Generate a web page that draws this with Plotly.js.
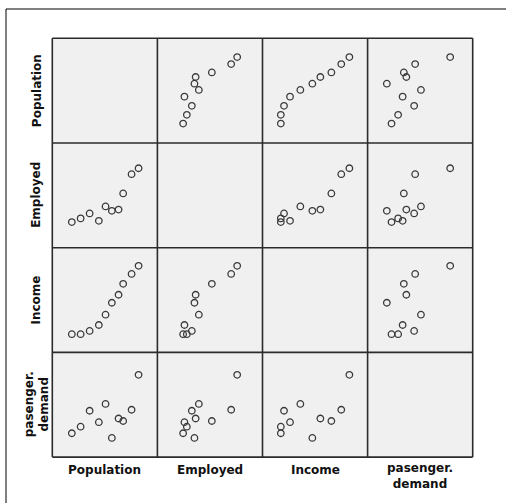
<!DOCTYPE html>
<html>
<head>
<meta charset="utf-8">
<script src="https://cdn.plot.ly/plotly-3.0.1.min.js"></script>
<style>html,body{margin:0;padding:0;background:#fff;}#chart{width:506px;height:503px;}</style>
</head>
<body>
<div id="chart"></div>
<script>
// Variable names (axis labels)
var varNames = ["Population", "Employed", "Income", "pasenger.<br>demand"];
var population = [19.5, 28.3, 37.3, 46.5, 53.2, 59.5, 66.2, 70.8, 79.2, 86.2];
var employed   = [25.7, 29.4, 34.4, 27.0, 41.4, 37.0, 38.2, 54.4, 73.7, 79.7];
var income     = [18.3, 18.3, 21.5, 27.5, 37.8, 49.8, 57.8, 68.8, 78.7, 86.8];
var demand     = [23.9, 30.5, 46.5, 35.0, 53.3, 19.2, 38.7, 36.2, 47.5, 82.5];

(function () {
var series = [population, employed, income, demand];
var W = 506, H = 503;
var gLeft = 52.3, gTop = 38.3, cw = 105.1, ch = 104.7;
var n = series.length;

var traces = [];
var layout = {
  width: W, height: H,
  margin: {l: 0, r: 0, t: 0, b: 0},
  paper_bgcolor: "#ffffff",
  plot_bgcolor: "rgba(0,0,0,0)",
  showlegend: false,
  shapes: [],
  annotations: []
};

for (var c = 0; c < n; c++) {
  var x0 = (gLeft + cw * c) / W, x1 = (gLeft + cw * (c + 1)) / W;
  layout["xaxis" + (c + 1)] = {
    domain: [x0, x1], range: [0, 105], anchor: "y" + n,
    showgrid: false, zeroline: false, showticklabels: false, ticks: "", showline: false
  };
}
for (var r = 0; r < n; r++) {
  var yt = 1 - (gTop + ch * r) / H, yb = 1 - (gTop + ch * (r + 1)) / H;
  layout["yaxis" + (r + 1)] = {
    domain: [yb, yt], range: [0, 105], anchor: "x1",
    showgrid: false, zeroline: false, showticklabels: false, ticks: "", showline: false
  };
}

for (var r = 0; r < n; r++) {
  for (var c = 0; c < n; c++) {
    if (r === c) continue;
    traces.push({
      type: "scatter", mode: "markers",
      x: series[c], y: series[r],
      xaxis: "x" + (c + 1), yaxis: "y" + (r + 1),
      marker: {symbol: "circle-open", size: 6.5, color: "#3a3a3a", line: {width: 1.3, color: "#3a3a3a"}},
      hoverinfo: "x+y"
    });
  }
}

function px(x) { return x / W; }
function py(y) { return 1 - y / H; }

// panel background
layout.shapes.push({type: "rect", xref: "paper", yref: "paper", layer: "below",
  x0: px(gLeft), x1: px(gLeft + cw * n), y0: py(gTop + ch * n), y1: py(gTop),
  fillcolor: "#f0f0f0", line: {width: 0}});
// grid borders
for (var i = 0; i <= n; i++) {
  layout.shapes.push({type: "line", xref: "paper", yref: "paper", layer: "above",
    x0: px(gLeft + cw * i), x1: px(gLeft + cw * i), y0: py(gTop), y1: py(gTop + ch * n),
    line: {color: "#2b2b2b", width: 1.6}});
  layout.shapes.push({type: "line", xref: "paper", yref: "paper", layer: "above",
    x0: px(gLeft), x1: px(gLeft + cw * n), y0: py(gTop + ch * i), y1: py(gTop + ch * i),
    line: {color: "#2b2b2b", width: 1.6}});
}
// outer frame (partly off-image)
layout.shapes.push({type: "line", xref: "paper", yref: "paper",
  x0: px(6), x1: px(6), y0: py(9), y1: py(520), line: {color: "#000", width: 1}});
layout.shapes.push({type: "line", xref: "paper", yref: "paper",
  x0: px(6), x1: px(530), y0: py(9), y1: py(9), line: {color: "#000", width: 1}});

var fnt = {family: "DejaVu Sans", size: 12, color: "#111"};
for (var c = 0; c < n; c++) {
  var two = varNames[c].indexOf("<br>") >= 0;
  layout.annotations.push({
    xref: "paper", yref: "paper",
    x: px(gLeft + cw * (c + 0.5)), y: py(two ? 475.5 : 469.5),
    text: "<b>" + varNames[c].replace("<br>", "</b><br><b>") + "</b>",
    showarrow: false, font: fnt, xanchor: "center", yanchor: "middle"
  });
}
for (var r = 0; r < n; r++) {
  layout.annotations.push({
    xref: "paper", yref: "paper",
    x: px(36.5), y: py(gTop + ch * (r + 0.5)),
    text: "<b>" + varNames[r].replace("<br>", "</b><br><b>") + "</b>",
    textangle: -90,
    showarrow: false, font: fnt, xanchor: "center", yanchor: "middle"
  });
}

Plotly.newPlot("chart", traces, layout, {staticPlot: true, displayModeBar: false});
})();
</script>
</body>
</html>
